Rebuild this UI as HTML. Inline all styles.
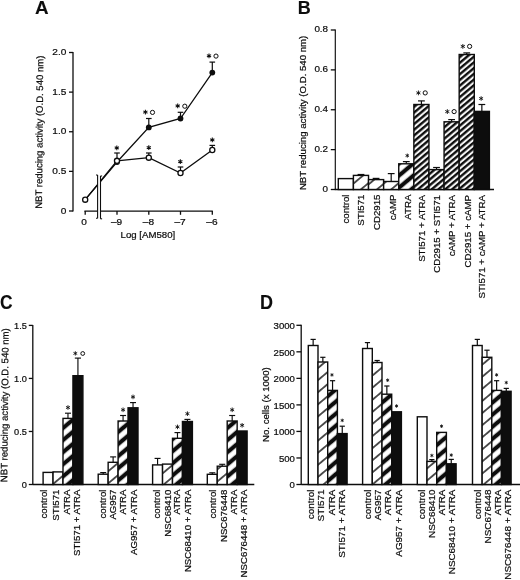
<!DOCTYPE html>
<html><head><meta charset="utf-8"><title>Figure</title>
<style>
html,body{margin:0;padding:0;background:#fff;}
body{width:520px;height:580px;overflow:hidden;}
svg{display:block;font-family:"Liberation Sans",sans-serif;fill:#0d0d0d;filter:grayscale(1) blur(0.35px);}
text{stroke:#0d0d0d;stroke-width:0.22px;}
</style></head><body>
<svg width="520" height="580" viewBox="0 0 520 580">
<defs>
<pattern id="lh" width="8.3" height="8.3" patternUnits="userSpaceOnUse" patternTransform="rotate(-41)"><rect width="8.3" height="8.3" fill="#fff"/><rect y="3" width="8.3" height="1.4" fill="#0d0d0d"/></pattern>
<pattern id="hh" width="8.3" height="8.3" patternUnits="userSpaceOnUse" patternTransform="rotate(-41)"><rect width="8.3" height="8.3" fill="#fff"/><rect y="2" width="8.3" height="4.1" fill="#0d0d0d"/></pattern>
<pattern id="dh" width="4.38" height="4.38" patternUnits="userSpaceOnUse" patternTransform="rotate(-40)"><rect width="4.38" height="4.38" fill="#fff"/><rect y="0.8" width="4.38" height="2.4" fill="#0d0d0d"/></pattern>
</defs>
<rect width="520" height="580" fill="#fff"/>

<text transform="translate(34.9,14.2) scale(1.047,1.035)" font-size="18" font-weight="bold" style="stroke-width:0.1px">A</text>
<text transform="translate(297.8,13.9) scale(1.0,1.0)" font-size="18" font-weight="bold" style="stroke-width:0.1px">B</text>
<text transform="translate(-0.1,308.9) scale(0.97,1.115)" font-size="18" font-weight="bold" style="stroke-width:0.1px">C</text>
<text transform="translate(260.0,308.8) scale(1.0,1.1)" font-size="18" font-weight="bold" style="stroke-width:0.1px">D</text>
<line x1="73.00" y1="52.00" x2="73.00" y2="211.50" stroke="#0d0d0d" stroke-width="1.3"/>
<line x1="69.00" y1="211.00" x2="73.00" y2="211.00" stroke="#0d0d0d" stroke-width="1.3"/>
<text transform="translate(66.30,213.50) scale(1.07,1)" text-anchor="end" font-size="9.45" >0</text>
<line x1="69.00" y1="171.38" x2="73.00" y2="171.38" stroke="#0d0d0d" stroke-width="1.3"/>
<text transform="translate(66.30,173.88) scale(1.07,1)" text-anchor="end" font-size="9.45" >0.5</text>
<line x1="69.00" y1="131.75" x2="73.00" y2="131.75" stroke="#0d0d0d" stroke-width="1.3"/>
<text transform="translate(66.30,134.25) scale(1.07,1)" text-anchor="end" font-size="9.45" >1.0</text>
<line x1="69.00" y1="92.12" x2="73.00" y2="92.12" stroke="#0d0d0d" stroke-width="1.3"/>
<text transform="translate(66.30,94.62) scale(1.07,1)" text-anchor="end" font-size="9.45" >1.5</text>
<line x1="69.00" y1="52.50" x2="73.00" y2="52.50" stroke="#0d0d0d" stroke-width="1.3"/>
<text transform="translate(66.30,55.00) scale(1.07,1)" text-anchor="end" font-size="9.45" >2.0</text>
<text transform="translate(42.64,132.20) rotate(-89.5)" text-anchor="middle" font-size="9.55" >NBT reducing activity (O.D. 540 nm)</text>
<line x1="84.40" y1="211.20" x2="212.80" y2="211.20" stroke="#0d0d0d" stroke-width="1.3"/>
<line x1="85.20" y1="211.00" x2="85.20" y2="214.80" stroke="#0d0d0d" stroke-width="1.3"/>
<text transform="translate(84.10,225.00) scale(1.07,1)" text-anchor="middle" font-size="9.45" >0</text>
<line x1="117.00" y1="211.00" x2="117.00" y2="214.80" stroke="#0d0d0d" stroke-width="1.3"/>
<text transform="translate(116.60,225.00) scale(1.07,1)" text-anchor="middle" font-size="9.45" >–9</text>
<line x1="148.80" y1="211.00" x2="148.80" y2="214.80" stroke="#0d0d0d" stroke-width="1.3"/>
<text transform="translate(148.40,225.00) scale(1.07,1)" text-anchor="middle" font-size="9.45" >–8</text>
<line x1="180.50" y1="211.00" x2="180.50" y2="214.80" stroke="#0d0d0d" stroke-width="1.3"/>
<text transform="translate(180.10,225.00) scale(1.07,1)" text-anchor="middle" font-size="9.45" >–7</text>
<line x1="212.30" y1="211.00" x2="212.30" y2="214.80" stroke="#0d0d0d" stroke-width="1.3"/>
<text transform="translate(211.90,225.00) scale(1.07,1)" text-anchor="middle" font-size="9.45" >–6</text>
<text x="147.90" y="238.00" text-anchor="middle" font-size="9.65" >Log [AM580]</text>
<polyline fill="none" stroke="#0d0d0d" stroke-width="1.3" points="85.2,199.7 117,162.0 148.8,127.4 180.5,118.5 212.3,72.6"/>
<polyline fill="none" stroke="#0d0d0d" stroke-width="1.3" points="85.2,199.7 117,160.8 148.8,157.7 180.5,173.0 212.3,150.0"/>
<line x1="148.80" y1="127.00" x2="148.80" y2="118.50" stroke="#0d0d0d" stroke-width="1.2"/>
<line x1="146.00" y1="118.50" x2="151.60" y2="118.50" stroke="#0d0d0d" stroke-width="1.2"/>
<line x1="180.50" y1="118.50" x2="180.50" y2="112.30" stroke="#0d0d0d" stroke-width="1.2"/>
<line x1="177.70" y1="112.30" x2="183.30" y2="112.30" stroke="#0d0d0d" stroke-width="1.2"/>
<line x1="212.30" y1="72.60" x2="212.30" y2="62.10" stroke="#0d0d0d" stroke-width="1.2"/>
<line x1="209.50" y1="62.10" x2="215.10" y2="62.10" stroke="#0d0d0d" stroke-width="1.2"/>
<line x1="117.00" y1="160.80" x2="117.00" y2="153.00" stroke="#0d0d0d" stroke-width="1.2"/>
<line x1="114.20" y1="153.00" x2="119.80" y2="153.00" stroke="#0d0d0d" stroke-width="1.2"/>
<line x1="148.80" y1="157.70" x2="148.80" y2="153.00" stroke="#0d0d0d" stroke-width="1.2"/>
<line x1="146.00" y1="153.00" x2="151.60" y2="153.00" stroke="#0d0d0d" stroke-width="1.2"/>
<line x1="180.50" y1="173.00" x2="180.50" y2="167.00" stroke="#0d0d0d" stroke-width="1.2"/>
<line x1="177.70" y1="167.00" x2="183.30" y2="167.00" stroke="#0d0d0d" stroke-width="1.2"/>
<line x1="212.30" y1="150.00" x2="212.30" y2="145.40" stroke="#0d0d0d" stroke-width="1.2"/>
<line x1="209.50" y1="145.40" x2="215.10" y2="145.40" stroke="#0d0d0d" stroke-width="1.2"/>
<circle cx="117" cy="162.0" r="2.9" fill="#0d0d0d"/>
<circle cx="148.8" cy="127.4" r="2.9" fill="#0d0d0d"/>
<circle cx="180.5" cy="118.5" r="2.9" fill="#0d0d0d"/>
<circle cx="212.3" cy="72.6" r="2.9" fill="#0d0d0d"/>
<circle cx="85.2" cy="199.7" r="2.55" fill="#fff" stroke="#0d0d0d" stroke-width="1.3"/>
<circle cx="117" cy="160.8" r="2.55" fill="#fff" stroke="#0d0d0d" stroke-width="1.3"/>
<circle cx="148.8" cy="157.7" r="2.55" fill="#fff" stroke="#0d0d0d" stroke-width="1.3"/>
<circle cx="180.5" cy="173.0" r="2.55" fill="#fff" stroke="#0d0d0d" stroke-width="1.3"/>
<circle cx="212.3" cy="150.0" r="2.55" fill="#fff" stroke="#0d0d0d" stroke-width="1.3"/>
<rect x="97.6" y="174.5" width="2.9" height="44.5" fill="#fff"/>
<line x1="97.60" y1="175.00" x2="97.60" y2="218.30" stroke="#0d0d0d" stroke-width="1.1"/>
<line x1="100.50" y1="176.00" x2="100.50" y2="218.80" stroke="#0d0d0d" stroke-width="1.1"/>
<line x1="96.00" y1="175.00" x2="97.60" y2="175.00" stroke="#0d0d0d" stroke-width="1.1"/>
<line x1="96.00" y1="218.30" x2="97.60" y2="218.30" stroke="#0d0d0d" stroke-width="1.1"/>
<line x1="100.50" y1="176.00" x2="102.10" y2="176.00" stroke="#0d0d0d" stroke-width="1.1"/>
<line x1="100.50" y1="218.80" x2="102.10" y2="218.80" stroke="#0d0d0d" stroke-width="1.1"/>
<path d="M145.40,114.50L145.40,109.70M143.32,113.30L147.48,110.90M143.32,110.90L147.48,113.30" stroke="#0d0d0d" stroke-width="1.05" fill="none" stroke-linecap="butt"/>
<circle cx="152.50" cy="112.40" r="2.1" fill="#fff" stroke="#0d0d0d" stroke-width="1"/>
<path d="M177.70,108.30L177.70,103.50M175.62,107.10L179.78,104.70M175.62,104.70L179.78,107.10" stroke="#0d0d0d" stroke-width="1.05" fill="none" stroke-linecap="butt"/>
<circle cx="184.80" cy="106.20" r="2.1" fill="#fff" stroke="#0d0d0d" stroke-width="1"/>
<path d="M209.00,58.20L209.00,53.40M206.92,57.00L211.08,54.60M206.92,54.60L211.08,57.00" stroke="#0d0d0d" stroke-width="1.05" fill="none" stroke-linecap="butt"/>
<circle cx="216.00" cy="56.10" r="2.1" fill="#fff" stroke="#0d0d0d" stroke-width="1"/>
<path d="M116.80,150.30L116.80,145.50M114.72,149.10L118.88,146.70M114.72,146.70L118.88,149.10" stroke="#0d0d0d" stroke-width="1.05" fill="none" stroke-linecap="butt"/>
<path d="M148.80,150.10L148.80,145.30M146.72,148.90L150.88,146.50M146.72,146.50L150.88,148.90" stroke="#0d0d0d" stroke-width="1.05" fill="none" stroke-linecap="butt"/>
<path d="M180.30,164.10L180.30,159.30M178.22,162.90L182.38,160.50M178.22,160.50L182.38,162.90" stroke="#0d0d0d" stroke-width="1.05" fill="none" stroke-linecap="butt"/>
<path d="M212.30,142.30L212.30,137.50M210.22,141.10L214.38,138.70M210.22,138.70L214.38,141.10" stroke="#0d0d0d" stroke-width="1.05" fill="none" stroke-linecap="butt"/>
<line x1="335.30" y1="29.50" x2="335.30" y2="190.00" stroke="#0d0d0d" stroke-width="1.15"/>
<line x1="330.80" y1="189.50" x2="335.30" y2="189.50" stroke="#0d0d0d" stroke-width="1.3"/>
<text transform="translate(328.10,191.60) scale(1.06,1)" text-anchor="end" font-size="9.3" >0</text>
<line x1="330.80" y1="149.62" x2="335.30" y2="149.62" stroke="#0d0d0d" stroke-width="1.3"/>
<text transform="translate(328.10,151.72) scale(1.06,1)" text-anchor="end" font-size="9.3" >0.2</text>
<line x1="330.80" y1="109.75" x2="335.30" y2="109.75" stroke="#0d0d0d" stroke-width="1.3"/>
<text transform="translate(328.10,111.85) scale(1.06,1)" text-anchor="end" font-size="9.3" >0.4</text>
<line x1="330.80" y1="69.88" x2="335.30" y2="69.88" stroke="#0d0d0d" stroke-width="1.3"/>
<text transform="translate(328.10,71.97) scale(1.06,1)" text-anchor="end" font-size="9.3" >0.6</text>
<line x1="330.80" y1="30.00" x2="335.30" y2="30.00" stroke="#0d0d0d" stroke-width="1.3"/>
<text transform="translate(328.10,32.10) scale(1.06,1)" text-anchor="end" font-size="9.3" >0.8</text>
<text transform="translate(305.67,112.90) rotate(-90)" text-anchor="middle" font-size="9.65" >NBT reducing activity (O.D. 540 nm)</text>
<line x1="334.80" y1="189.50" x2="494.00" y2="189.50" stroke="#0d0d0d" stroke-width="1.3"/>
<rect x="338.30" y="178.60" width="15.11" height="10.90" fill="#fff" stroke="#0d0d0d" stroke-width="1.4"/>
<text transform="translate(349.15,194.50) rotate(-90)" text-anchor="end" font-size="9.7" >control</text>
<line x1="360.97" y1="175.40" x2="360.97" y2="174.50" stroke="#0d0d0d" stroke-width="1.2"/>
<line x1="357.57" y1="174.50" x2="364.37" y2="174.50" stroke="#0d0d0d" stroke-width="1.2"/>
<pattern id="p1" width="9.27" height="9.27" patternUnits="userSpaceOnUse" patternTransform="translate(360.1,190.10000000000002) rotate(-40)"><rect width="9.27" height="9.27" fill="#fff"/><rect y="0" width="9.27" height="0.70" fill="#0d0d0d"/><rect y="8.57" width="9.27" height="0.75" fill="#0d0d0d"/></pattern>
<rect x="353.41" y="175.40" width="15.11" height="14.10" fill="url(#p1)" stroke="#0d0d0d" stroke-width="1.4"/>
<text transform="translate(364.26,194.50) rotate(-90)" text-anchor="end" font-size="9.7" >STI571</text>
<line x1="376.07" y1="179.60" x2="376.07" y2="178.40" stroke="#0d0d0d" stroke-width="1.2"/>
<line x1="372.68" y1="178.40" x2="379.47" y2="178.40" stroke="#0d0d0d" stroke-width="1.2"/>
<pattern id="p2" width="9.27" height="9.27" patternUnits="userSpaceOnUse" patternTransform="translate(376.2,190.10000000000002) rotate(-40)"><rect width="9.27" height="9.27" fill="#fff"/><rect y="0" width="9.27" height="0.70" fill="#0d0d0d"/><rect y="8.57" width="9.27" height="0.75" fill="#0d0d0d"/></pattern>
<rect x="368.52" y="179.60" width="15.11" height="9.90" fill="url(#p2)" stroke="#0d0d0d" stroke-width="1.4"/>
<text transform="translate(379.87,194.50) rotate(-90)" text-anchor="end" font-size="9.7" >CD2915</text>
<line x1="391.19" y1="181.50" x2="391.19" y2="173.60" stroke="#0d0d0d" stroke-width="1.2"/>
<line x1="387.79" y1="173.60" x2="394.58" y2="173.60" stroke="#0d0d0d" stroke-width="1.2"/>
<pattern id="p3" width="9.27" height="9.27" patternUnits="userSpaceOnUse" patternTransform="translate(390.4,190.10000000000002) rotate(-40)"><rect width="9.27" height="9.27" fill="#fff"/><rect y="0" width="9.27" height="0.70" fill="#0d0d0d"/><rect y="8.57" width="9.27" height="0.75" fill="#0d0d0d"/></pattern>
<rect x="383.63" y="181.50" width="15.11" height="8.00" fill="url(#p3)" stroke="#0d0d0d" stroke-width="1.4"/>
<text transform="translate(396.38,194.50) rotate(-90)" text-anchor="end" font-size="9.7" >cAMP</text>
<line x1="406.30" y1="163.80" x2="406.30" y2="161.60" stroke="#0d0d0d" stroke-width="1.2"/>
<line x1="402.90" y1="161.60" x2="409.69" y2="161.60" stroke="#0d0d0d" stroke-width="1.2"/>
<pattern id="p4" width="9.27" height="9.27" patternUnits="userSpaceOnUse" patternTransform="translate(399.2,175.4) rotate(-40)"><rect width="9.27" height="9.27" fill="#fff"/><rect y="0" width="9.27" height="2.10" fill="#0d0d0d"/><rect y="7.17" width="9.27" height="2.15" fill="#0d0d0d"/></pattern>
<rect x="398.74" y="163.80" width="15.11" height="25.70" fill="url(#p4)" stroke="#0d0d0d" stroke-width="1.4"/>
<text transform="translate(410.59,194.50) rotate(-90)" text-anchor="end" font-size="9.7" >ATRA</text>
<path d="M407.30,157.60L407.30,153.60M405.56,156.60L409.03,154.60M405.56,154.60L409.03,156.60" stroke="#0d0d0d" stroke-width="0.9" fill="none" stroke-linecap="butt"/>
<line x1="421.41" y1="104.50" x2="421.41" y2="100.90" stroke="#0d0d0d" stroke-width="1.2"/>
<line x1="418.01" y1="100.90" x2="424.81" y2="100.90" stroke="#0d0d0d" stroke-width="1.2"/>
<rect x="413.85" y="104.50" width="15.11" height="85.00" fill="url(#dh)" stroke="#0d0d0d" stroke-width="1.4"/>
<text transform="translate(424.90,195.00) rotate(-90)" text-anchor="end" font-size="9.7" >STI571 + ATRA</text>
<path d="M418.41,95.30L418.41,90.50M416.33,94.10L420.48,91.70M416.33,91.70L420.48,94.10" stroke="#0d0d0d" stroke-width="0.9" fill="none" stroke-linecap="butt"/>
<circle cx="425.21" cy="92.90" r="2.1" fill="#fff" stroke="#0d0d0d" stroke-width="1"/>
<line x1="436.52" y1="169.60" x2="436.52" y2="167.50" stroke="#0d0d0d" stroke-width="1.2"/>
<line x1="433.12" y1="167.50" x2="439.92" y2="167.50" stroke="#0d0d0d" stroke-width="1.2"/>
<rect x="428.96" y="169.60" width="15.11" height="19.90" fill="url(#dh)" stroke="#0d0d0d" stroke-width="1.4"/>
<text transform="translate(440.01,195.00) rotate(-90)" text-anchor="end" font-size="9.7" >CD2915 + STI571</text>
<line x1="451.62" y1="121.80" x2="451.62" y2="119.60" stroke="#0d0d0d" stroke-width="1.2"/>
<line x1="448.23" y1="119.60" x2="455.02" y2="119.60" stroke="#0d0d0d" stroke-width="1.2"/>
<rect x="444.07" y="121.80" width="15.11" height="67.70" fill="url(#dh)" stroke="#0d0d0d" stroke-width="1.4"/>
<text transform="translate(455.42,195.00) rotate(-90)" text-anchor="end" font-size="9.7" >cAMP + ATRA</text>
<path d="M447.32,114.00L447.32,109.20M445.25,112.80L449.40,110.40M445.25,110.40L449.40,112.80" stroke="#0d0d0d" stroke-width="0.9" fill="none" stroke-linecap="butt"/>
<circle cx="454.12" cy="111.60" r="2.1" fill="#fff" stroke="#0d0d0d" stroke-width="1"/>
<line x1="466.74" y1="54.50" x2="466.74" y2="52.90" stroke="#0d0d0d" stroke-width="1.2"/>
<line x1="463.34" y1="52.90" x2="470.13" y2="52.90" stroke="#0d0d0d" stroke-width="1.2"/>
<rect x="459.18" y="54.50" width="15.11" height="135.00" fill="url(#dh)" stroke="#0d0d0d" stroke-width="1.4"/>
<text transform="translate(470.53,195.00) rotate(-90)" text-anchor="end" font-size="9.7" >CD2915 + cAMP</text>
<path d="M462.83,48.80L462.83,44.00M460.76,47.60L464.91,45.20M460.76,45.20L464.91,47.60" stroke="#0d0d0d" stroke-width="0.9" fill="none" stroke-linecap="butt"/>
<circle cx="469.63" cy="46.40" r="2.1" fill="#fff" stroke="#0d0d0d" stroke-width="1"/>
<line x1="481.85" y1="111.40" x2="481.85" y2="104.50" stroke="#0d0d0d" stroke-width="1.2"/>
<line x1="478.45" y1="104.50" x2="485.25" y2="104.50" stroke="#0d0d0d" stroke-width="1.2"/>
<rect x="474.29" y="111.40" width="15.11" height="78.10" fill="#0d0d0d" stroke="#0d0d0d" stroke-width="1.4"/>
<text transform="translate(484.74,195.00) rotate(-90)" text-anchor="end" font-size="9.7" >STI571 + cAMP + ATRA</text>
<path d="M481.15,100.75L481.15,96.25M479.20,99.62L483.09,97.38M479.20,97.38L483.09,99.62" stroke="#0d0d0d" stroke-width="0.9" fill="none" stroke-linecap="butt"/>
<line x1="32.80" y1="324.90" x2="32.80" y2="485.00" stroke="#0d0d0d" stroke-width="1.3"/>
<line x1="28.80" y1="484.50" x2="32.80" y2="484.50" stroke="#0d0d0d" stroke-width="1.3"/>
<text x="26.80" y="487.80" text-anchor="end" font-size="9.2" >0</text>
<line x1="28.80" y1="431.47" x2="32.80" y2="431.47" stroke="#0d0d0d" stroke-width="1.3"/>
<text x="26.80" y="434.77" text-anchor="end" font-size="9.2" >0.5</text>
<line x1="28.80" y1="378.43" x2="32.80" y2="378.43" stroke="#0d0d0d" stroke-width="1.3"/>
<text x="26.80" y="381.73" text-anchor="end" font-size="9.2" >1.0</text>
<line x1="28.80" y1="325.40" x2="32.80" y2="325.40" stroke="#0d0d0d" stroke-width="1.3"/>
<text x="26.80" y="328.70" text-anchor="end" font-size="9.2" >1.5</text>
<text transform="translate(7.96,405.20) rotate(-89.5)" text-anchor="middle" font-size="9.6" >NBT reducing activity (O.D. 540 nm)</text>
<line x1="32.80" y1="484.50" x2="254.30" y2="484.50" stroke="#0d0d0d" stroke-width="1.3"/>
<rect x="43.10" y="472.40" width="9.95" height="12.10" fill="#fff" stroke="#0d0d0d" stroke-width="1.4"/>
<text transform="translate(47.35,489.60) rotate(-90)" text-anchor="end" font-size="9.65" >control</text>
<pattern id="p5" width="9.27" height="9.27" patternUnits="userSpaceOnUse" patternTransform="translate(53.1,484.0) rotate(-40)"><rect width="9.27" height="9.27" fill="#fff"/><rect y="0" width="9.27" height="0.70" fill="#0d0d0d"/><rect y="8.57" width="9.27" height="0.75" fill="#0d0d0d"/></pattern>
<rect x="53.05" y="471.90" width="9.95" height="12.60" fill="url(#p5)" stroke="#0d0d0d" stroke-width="1.4"/>
<text transform="translate(59.40,489.60) rotate(-90)" text-anchor="end" font-size="9.65" >STI571</text>
<line x1="67.97" y1="418.40" x2="67.97" y2="413.20" stroke="#0d0d0d" stroke-width="1.15"/>
<line x1="64.97" y1="413.20" x2="70.97" y2="413.20" stroke="#0d0d0d" stroke-width="1.15"/>
<pattern id="p6" width="9.27" height="9.27" patternUnits="userSpaceOnUse" patternTransform="translate(62.8,452.4) rotate(-40)"><rect width="9.27" height="9.27" fill="#fff"/><rect y="0" width="9.27" height="2.10" fill="#0d0d0d"/><rect y="7.17" width="9.27" height="2.15" fill="#0d0d0d"/></pattern>
<rect x="63.00" y="418.40" width="9.95" height="66.10" fill="url(#p6)" stroke="#0d0d0d" stroke-width="1.4"/>
<text transform="translate(69.75,489.60) rotate(-90)" text-anchor="end" font-size="9.65" >ATRA</text>
<path d="M67.97,409.80L67.97,405.20M65.98,408.65L69.97,406.35M65.98,406.35L69.97,408.65" stroke="#0d0d0d" stroke-width="0.9" fill="none" stroke-linecap="butt"/>
<line x1="77.93" y1="375.70" x2="77.93" y2="358.10" stroke="#0d0d0d" stroke-width="1.15"/>
<line x1="74.83" y1="358.10" x2="81.03" y2="358.10" stroke="#0d0d0d" stroke-width="1.15"/>
<rect x="72.95" y="375.70" width="9.95" height="108.80" fill="#0d0d0d" stroke="#0d0d0d" stroke-width="1.4"/>
<text transform="translate(80.30,489.60) rotate(-90)" text-anchor="end" font-size="9.65" >STI571 + ATRA</text>
<path d="M75.33,355.55L75.33,351.25M73.46,354.48L77.19,352.33M73.46,352.33L77.19,354.48" stroke="#0d0d0d" stroke-width="0.9" fill="none" stroke-linecap="butt"/>
<circle cx="82.73" cy="353.50" r="1.9" fill="#fff" stroke="#0d0d0d" stroke-width="1"/>
<line x1="103.18" y1="474.20" x2="103.18" y2="472.60" stroke="#0d0d0d" stroke-width="1.15"/>
<line x1="100.18" y1="472.60" x2="106.18" y2="472.60" stroke="#0d0d0d" stroke-width="1.15"/>
<rect x="98.20" y="474.20" width="9.95" height="10.30" fill="#fff" stroke="#0d0d0d" stroke-width="1.4"/>
<text transform="translate(105.55,489.60) rotate(-90)" text-anchor="end" font-size="9.65" >control</text>
<line x1="113.12" y1="462.30" x2="113.12" y2="456.90" stroke="#0d0d0d" stroke-width="1.15"/>
<line x1="110.12" y1="456.90" x2="116.12" y2="456.90" stroke="#0d0d0d" stroke-width="1.15"/>
<pattern id="p7" width="9.27" height="9.27" patternUnits="userSpaceOnUse" patternTransform="translate(107.7,471.7) rotate(-40)"><rect width="9.27" height="9.27" fill="#fff"/><rect y="0" width="9.27" height="0.70" fill="#0d0d0d"/><rect y="8.57" width="9.27" height="0.75" fill="#0d0d0d"/></pattern>
<rect x="108.15" y="462.30" width="9.95" height="22.20" fill="url(#p7)" stroke="#0d0d0d" stroke-width="1.4"/>
<text transform="translate(115.80,489.60) rotate(-90)" text-anchor="end" font-size="9.65" >AG957</text>
<line x1="123.07" y1="421.00" x2="123.07" y2="415.50" stroke="#0d0d0d" stroke-width="1.15"/>
<line x1="120.07" y1="415.50" x2="126.07" y2="415.50" stroke="#0d0d0d" stroke-width="1.15"/>
<pattern id="p8" width="9.27" height="9.27" patternUnits="userSpaceOnUse" patternTransform="translate(117.3,456.9) rotate(-40)"><rect width="9.27" height="9.27" fill="#fff"/><rect y="0" width="9.27" height="2.10" fill="#0d0d0d"/><rect y="7.17" width="9.27" height="2.15" fill="#0d0d0d"/></pattern>
<rect x="118.10" y="421.00" width="9.95" height="63.50" fill="url(#p8)" stroke="#0d0d0d" stroke-width="1.4"/>
<text transform="translate(126.15,489.60) rotate(-90)" text-anchor="end" font-size="9.65" >ATRA</text>
<path d="M123.07,412.10L123.07,407.50M121.08,410.95L125.07,408.65M121.08,408.65L125.07,410.95" stroke="#0d0d0d" stroke-width="0.9" fill="none" stroke-linecap="butt"/>
<line x1="133.03" y1="407.80" x2="133.03" y2="402.60" stroke="#0d0d0d" stroke-width="1.15"/>
<line x1="130.03" y1="402.60" x2="136.03" y2="402.60" stroke="#0d0d0d" stroke-width="1.15"/>
<rect x="128.05" y="407.80" width="9.95" height="76.70" fill="#0d0d0d" stroke="#0d0d0d" stroke-width="1.4"/>
<text transform="translate(136.50,489.60) rotate(-90)" text-anchor="end" font-size="9.65" >AG957 + ATRA</text>
<path d="M133.03,399.20L133.03,394.60M131.03,398.05L135.02,395.75M131.03,395.75L135.02,398.05" stroke="#0d0d0d" stroke-width="0.9" fill="none" stroke-linecap="butt"/>
<line x1="157.57" y1="464.90" x2="157.57" y2="458.40" stroke="#0d0d0d" stroke-width="1.15"/>
<line x1="154.57" y1="458.40" x2="160.57" y2="458.40" stroke="#0d0d0d" stroke-width="1.15"/>
<rect x="152.60" y="464.90" width="9.95" height="19.60" fill="#fff" stroke="#0d0d0d" stroke-width="1.4"/>
<text transform="translate(159.95,489.60) rotate(-90)" text-anchor="end" font-size="9.65" >control</text>
<pattern id="p9" width="9.27" height="9.27" patternUnits="userSpaceOnUse" patternTransform="translate(162.1,473.8) rotate(-40)"><rect width="9.27" height="9.27" fill="#fff"/><rect y="0" width="9.27" height="0.70" fill="#0d0d0d"/><rect y="8.57" width="9.27" height="0.75" fill="#0d0d0d"/></pattern>
<rect x="162.55" y="464.10" width="9.95" height="20.40" fill="url(#p9)" stroke="#0d0d0d" stroke-width="1.4"/>
<text transform="translate(171.00,489.60) rotate(-90)" text-anchor="end" font-size="9.65" >NSC68410</text>
<line x1="177.47" y1="438.30" x2="177.47" y2="432.60" stroke="#0d0d0d" stroke-width="1.15"/>
<line x1="174.47" y1="432.60" x2="180.47" y2="432.60" stroke="#0d0d0d" stroke-width="1.15"/>
<pattern id="p10" width="9.27" height="9.27" patternUnits="userSpaceOnUse" patternTransform="translate(171.7,464.1) rotate(-40)"><rect width="9.27" height="9.27" fill="#fff"/><rect y="0" width="9.27" height="2.10" fill="#0d0d0d"/><rect y="7.17" width="9.27" height="2.15" fill="#0d0d0d"/></pattern>
<rect x="172.50" y="438.30" width="9.95" height="46.20" fill="url(#p10)" stroke="#0d0d0d" stroke-width="1.4"/>
<text transform="translate(180.35,489.60) rotate(-90)" text-anchor="end" font-size="9.65" >ATRA</text>
<path d="M177.47,429.20L177.47,424.60M175.48,428.05L179.47,425.75M175.48,425.75L179.47,428.05" stroke="#0d0d0d" stroke-width="0.9" fill="none" stroke-linecap="butt"/>
<line x1="187.42" y1="421.50" x2="187.42" y2="419.40" stroke="#0d0d0d" stroke-width="1.15"/>
<line x1="184.42" y1="419.40" x2="190.42" y2="419.40" stroke="#0d0d0d" stroke-width="1.15"/>
<rect x="182.45" y="421.50" width="9.95" height="63.00" fill="#0d0d0d" stroke="#0d0d0d" stroke-width="1.4"/>
<text transform="translate(190.50,489.60) rotate(-90)" text-anchor="end" font-size="9.65" >NSC68410 + ATRA</text>
<path d="M187.42,416.00L187.42,411.40M185.43,414.85L189.42,412.55M185.43,412.55L189.42,414.85" stroke="#0d0d0d" stroke-width="0.9" fill="none" stroke-linecap="butt"/>
<line x1="212.28" y1="474.30" x2="212.28" y2="472.80" stroke="#0d0d0d" stroke-width="1.15"/>
<line x1="209.28" y1="472.80" x2="215.28" y2="472.80" stroke="#0d0d0d" stroke-width="1.15"/>
<rect x="207.30" y="474.30" width="9.95" height="10.20" fill="#fff" stroke="#0d0d0d" stroke-width="1.4"/>
<text transform="translate(216.25,489.60) rotate(-90)" text-anchor="end" font-size="9.65" >control</text>
<line x1="222.22" y1="466.20" x2="222.22" y2="464.30" stroke="#0d0d0d" stroke-width="1.15"/>
<line x1="219.22" y1="464.30" x2="225.22" y2="464.30" stroke="#0d0d0d" stroke-width="1.15"/>
<pattern id="p11" width="9.27" height="9.27" patternUnits="userSpaceOnUse" patternTransform="translate(217.1,481.7) rotate(-40)"><rect width="9.27" height="9.27" fill="#fff"/><rect y="0" width="9.27" height="0.70" fill="#0d0d0d"/><rect y="8.57" width="9.27" height="0.75" fill="#0d0d0d"/></pattern>
<rect x="217.25" y="466.20" width="9.95" height="18.30" fill="url(#p11)" stroke="#0d0d0d" stroke-width="1.4"/>
<text transform="translate(226.90,489.60) rotate(-90)" text-anchor="end" font-size="9.65" >NSC676448</text>
<line x1="232.18" y1="421.00" x2="232.18" y2="415.50" stroke="#0d0d0d" stroke-width="1.15"/>
<line x1="229.18" y1="415.50" x2="235.18" y2="415.50" stroke="#0d0d0d" stroke-width="1.15"/>
<pattern id="p12" width="9.27" height="9.27" patternUnits="userSpaceOnUse" patternTransform="translate(226.5,453.0) rotate(-40)"><rect width="9.27" height="9.27" fill="#fff"/><rect y="0" width="9.27" height="2.10" fill="#0d0d0d"/><rect y="7.17" width="9.27" height="2.15" fill="#0d0d0d"/></pattern>
<rect x="227.20" y="421.00" width="9.95" height="63.50" fill="url(#p12)" stroke="#0d0d0d" stroke-width="1.4"/>
<text transform="translate(237.05,489.60) rotate(-90)" text-anchor="end" font-size="9.65" >ATRA</text>
<path d="M232.18,412.10L232.18,407.50M230.18,410.95L234.17,408.65M230.18,408.65L234.17,410.95" stroke="#0d0d0d" stroke-width="0.9" fill="none" stroke-linecap="butt"/>
<rect x="237.15" y="431.00" width="9.95" height="53.50" fill="#0d0d0d" stroke="#0d0d0d" stroke-width="1.4"/>
<text transform="translate(247.00,489.60) rotate(-90)" text-anchor="end" font-size="9.65" >NSC676448 + ATRA</text>
<path d="M242.12,427.60L242.12,423.00M240.13,426.45L244.12,424.15M240.13,424.15L244.12,426.45" stroke="#0d0d0d" stroke-width="0.9" fill="none" stroke-linecap="butt"/>
<line x1="301.20" y1="324.80" x2="301.20" y2="485.00" stroke="#0d0d0d" stroke-width="1.3"/>
<line x1="296.40" y1="484.50" x2="301.20" y2="484.50" stroke="#0d0d0d" stroke-width="1.3"/>
<text x="294.90" y="488.20" text-anchor="end" font-size="9.6" >0</text>
<line x1="296.40" y1="457.97" x2="301.20" y2="457.97" stroke="#0d0d0d" stroke-width="1.3"/>
<text x="294.90" y="461.67" text-anchor="end" font-size="9.6" >500</text>
<line x1="296.40" y1="431.43" x2="301.20" y2="431.43" stroke="#0d0d0d" stroke-width="1.3"/>
<text x="294.90" y="435.13" text-anchor="end" font-size="9.6" >1000</text>
<line x1="296.40" y1="404.90" x2="301.20" y2="404.90" stroke="#0d0d0d" stroke-width="1.3"/>
<text x="294.90" y="408.60" text-anchor="end" font-size="9.6" >1500</text>
<line x1="296.40" y1="378.37" x2="301.20" y2="378.37" stroke="#0d0d0d" stroke-width="1.3"/>
<text x="294.90" y="382.07" text-anchor="end" font-size="9.6" >2000</text>
<line x1="296.40" y1="351.83" x2="301.20" y2="351.83" stroke="#0d0d0d" stroke-width="1.3"/>
<text x="294.90" y="355.53" text-anchor="end" font-size="9.6" >2500</text>
<line x1="296.40" y1="325.30" x2="301.20" y2="325.30" stroke="#0d0d0d" stroke-width="1.3"/>
<text x="294.90" y="329.00" text-anchor="end" font-size="9.6" >3000</text>
<text transform="translate(268.66,404.60) rotate(-90)" text-anchor="middle" font-size="9.6" >No. cells (x 1000)</text>
<line x1="301.20" y1="484.50" x2="520.00" y2="484.50" stroke="#0d0d0d" stroke-width="1.3"/>
<line x1="313.15" y1="345.50" x2="313.15" y2="339.40" stroke="#0d0d0d" stroke-width="1.2"/>
<line x1="310.55" y1="339.40" x2="315.75" y2="339.40" stroke="#0d0d0d" stroke-width="1.2"/>
<rect x="308.30" y="345.50" width="9.70" height="139.00" fill="#fff" stroke="#0d0d0d" stroke-width="1.4"/>
<text transform="translate(313.51,489.60) rotate(-90)" text-anchor="end" font-size="9.9" >control</text>
<line x1="322.85" y1="362.00" x2="322.85" y2="357.30" stroke="#0d0d0d" stroke-width="1.2"/>
<line x1="320.25" y1="357.30" x2="325.45" y2="357.30" stroke="#0d0d0d" stroke-width="1.2"/>
<pattern id="p13" width="9.27" height="9.27" patternUnits="userSpaceOnUse" patternTransform="translate(317.8,465.0) rotate(-40)"><rect width="9.27" height="9.27" fill="#fff"/><rect y="0" width="9.27" height="0.70" fill="#0d0d0d"/><rect y="8.57" width="9.27" height="0.75" fill="#0d0d0d"/></pattern>
<rect x="318.00" y="362.00" width="9.70" height="122.50" fill="url(#p13)" stroke="#0d0d0d" stroke-width="1.4"/>
<text transform="translate(324.31,489.60) rotate(-90)" text-anchor="end" font-size="9.9" >STI571</text>
<line x1="332.55" y1="390.40" x2="332.55" y2="380.70" stroke="#0d0d0d" stroke-width="1.2"/>
<line x1="329.95" y1="380.70" x2="335.15" y2="380.70" stroke="#0d0d0d" stroke-width="1.2"/>
<pattern id="p14" width="9.27" height="9.27" patternUnits="userSpaceOnUse" patternTransform="translate(327.6,469.0) rotate(-40)"><rect width="9.27" height="9.27" fill="#fff"/><rect y="0" width="9.27" height="2.10" fill="#0d0d0d"/><rect y="7.17" width="9.27" height="2.15" fill="#0d0d0d"/></pattern>
<rect x="327.70" y="390.40" width="9.70" height="94.10" fill="url(#p14)" stroke="#0d0d0d" stroke-width="1.4"/>
<text transform="translate(335.41,489.60) rotate(-90)" text-anchor="end" font-size="9.9" >ATRA</text>
<path d="M331.95,376.65L331.95,373.15M330.43,375.77L333.47,374.02M330.43,374.02L333.47,375.77" stroke="#0d0d0d" stroke-width="0.85" fill="none" stroke-linecap="butt"/>
<line x1="342.25" y1="433.60" x2="342.25" y2="426.20" stroke="#0d0d0d" stroke-width="1.2"/>
<line x1="339.65" y1="426.20" x2="344.85" y2="426.20" stroke="#0d0d0d" stroke-width="1.2"/>
<rect x="337.40" y="433.60" width="9.70" height="50.90" fill="#0d0d0d" stroke="#0d0d0d" stroke-width="1.4"/>
<text transform="translate(345.31,489.60) rotate(-90)" text-anchor="end" font-size="9.9" >STI571 + ATRA</text>
<path d="M342.25,422.15L342.25,418.65M340.73,421.27L343.77,419.52M340.73,419.52L343.77,421.27" stroke="#0d0d0d" stroke-width="0.85" fill="none" stroke-linecap="butt"/>
<line x1="367.45" y1="348.50" x2="367.45" y2="342.60" stroke="#0d0d0d" stroke-width="1.2"/>
<line x1="364.85" y1="342.60" x2="370.05" y2="342.60" stroke="#0d0d0d" stroke-width="1.2"/>
<rect x="362.60" y="348.50" width="9.70" height="136.00" fill="#fff" stroke="#0d0d0d" stroke-width="1.4"/>
<text transform="translate(371.01,489.60) rotate(-90)" text-anchor="end" font-size="9.9" >control</text>
<line x1="377.15" y1="362.50" x2="377.15" y2="360.50" stroke="#0d0d0d" stroke-width="1.2"/>
<line x1="374.55" y1="360.50" x2="379.75" y2="360.50" stroke="#0d0d0d" stroke-width="1.2"/>
<pattern id="p15" width="9.27" height="9.27" patternUnits="userSpaceOnUse" patternTransform="translate(372.3,460.4) rotate(-40)"><rect width="9.27" height="9.27" fill="#fff"/><rect y="0" width="9.27" height="0.70" fill="#0d0d0d"/><rect y="8.57" width="9.27" height="0.75" fill="#0d0d0d"/></pattern>
<rect x="372.30" y="362.50" width="9.70" height="122.00" fill="url(#p15)" stroke="#0d0d0d" stroke-width="1.4"/>
<text transform="translate(381.31,489.60) rotate(-90)" text-anchor="end" font-size="9.9" >AG957</text>
<line x1="386.85" y1="394.20" x2="386.85" y2="386.00" stroke="#0d0d0d" stroke-width="1.2"/>
<line x1="384.25" y1="386.00" x2="389.45" y2="386.00" stroke="#0d0d0d" stroke-width="1.2"/>
<pattern id="p16" width="9.27" height="9.27" patternUnits="userSpaceOnUse" patternTransform="translate(382.2,463.0) rotate(-40)"><rect width="9.27" height="9.27" fill="#fff"/><rect y="0" width="9.27" height="2.10" fill="#0d0d0d"/><rect y="7.17" width="9.27" height="2.15" fill="#0d0d0d"/></pattern>
<rect x="382.00" y="394.20" width="9.70" height="90.30" fill="url(#p16)" stroke="#0d0d0d" stroke-width="1.4"/>
<text transform="translate(391.01,489.60) rotate(-90)" text-anchor="end" font-size="9.9" >ATRA</text>
<path d="M387.65,381.95L387.65,378.45M386.13,381.07L389.17,379.32M386.13,379.32L389.17,381.07" stroke="#0d0d0d" stroke-width="0.85" fill="none" stroke-linecap="butt"/>
<rect x="391.70" y="411.80" width="9.70" height="72.70" fill="#0d0d0d" stroke="#0d0d0d" stroke-width="1.4"/>
<text transform="translate(402.41,489.60) rotate(-90)" text-anchor="end" font-size="9.9" >AG957 + ATRA</text>
<path d="M396.55,407.75L396.55,404.25M395.03,406.88L398.07,405.12M395.03,405.12L398.07,406.88" stroke="#0d0d0d" stroke-width="0.85" fill="none" stroke-linecap="butt"/>
<rect x="417.30" y="416.80" width="9.70" height="67.70" fill="#fff" stroke="#0d0d0d" stroke-width="1.4"/>
<text transform="translate(424.61,489.60) rotate(-90)" text-anchor="end" font-size="9.9" >control</text>
<line x1="431.85" y1="461.40" x2="431.85" y2="459.60" stroke="#0d0d0d" stroke-width="1.2"/>
<line x1="429.25" y1="459.60" x2="434.45" y2="459.60" stroke="#0d0d0d" stroke-width="1.2"/>
<pattern id="p17" width="9.27" height="9.27" patternUnits="userSpaceOnUse" patternTransform="translate(426.7,468.7) rotate(-40)"><rect width="9.27" height="9.27" fill="#fff"/><rect y="0" width="9.27" height="0.70" fill="#0d0d0d"/><rect y="8.57" width="9.27" height="0.75" fill="#0d0d0d"/></pattern>
<rect x="427.00" y="461.40" width="9.70" height="23.10" fill="url(#p17)" stroke="#0d0d0d" stroke-width="1.4"/>
<text transform="translate(435.41,489.60) rotate(-90)" text-anchor="end" font-size="9.9" >NSC68410</text>
<path d="M431.85,457.25L431.85,453.75M430.33,456.38L433.37,454.62M430.33,454.62L433.37,456.38" stroke="#0d0d0d" stroke-width="0.85" fill="none" stroke-linecap="butt"/>
<pattern id="p18" width="9.27" height="9.27" patternUnits="userSpaceOnUse" patternTransform="translate(436.5,457.4) rotate(-40)"><rect width="9.27" height="9.27" fill="#fff"/><rect y="0" width="9.27" height="2.10" fill="#0d0d0d"/><rect y="7.17" width="9.27" height="2.15" fill="#0d0d0d"/></pattern>
<rect x="436.70" y="432.40" width="9.70" height="52.10" fill="url(#p18)" stroke="#0d0d0d" stroke-width="1.4"/>
<text transform="translate(445.11,489.60) rotate(-90)" text-anchor="end" font-size="9.9" >ATRA</text>
<path d="M441.55,427.95L441.55,424.45M440.03,427.07L443.07,425.32M440.03,425.32L443.07,427.07" stroke="#0d0d0d" stroke-width="0.85" fill="none" stroke-linecap="butt"/>
<line x1="451.25" y1="463.80" x2="451.25" y2="459.40" stroke="#0d0d0d" stroke-width="1.2"/>
<line x1="448.65" y1="459.40" x2="453.85" y2="459.40" stroke="#0d0d0d" stroke-width="1.2"/>
<rect x="446.40" y="463.80" width="9.70" height="20.70" fill="#0d0d0d" stroke="#0d0d0d" stroke-width="1.4"/>
<text transform="translate(454.81,489.60) rotate(-90)" text-anchor="end" font-size="9.9" >NSC68410 + ATRA</text>
<path d="M451.25,456.85L451.25,453.35M449.73,455.97L452.77,454.22M449.73,454.22L452.77,455.97" stroke="#0d0d0d" stroke-width="0.85" fill="none" stroke-linecap="butt"/>
<line x1="477.32" y1="345.50" x2="477.32" y2="339.40" stroke="#0d0d0d" stroke-width="1.2"/>
<line x1="474.72" y1="339.40" x2="479.93" y2="339.40" stroke="#0d0d0d" stroke-width="1.2"/>
<rect x="472.50" y="345.50" width="9.65" height="139.00" fill="#fff" stroke="#0d0d0d" stroke-width="1.4"/>
<text transform="translate(480.89,489.60) rotate(-90)" text-anchor="end" font-size="9.9" >control</text>
<line x1="486.97" y1="357.30" x2="486.97" y2="350.20" stroke="#0d0d0d" stroke-width="1.2"/>
<line x1="484.37" y1="350.20" x2="489.57" y2="350.20" stroke="#0d0d0d" stroke-width="1.2"/>
<pattern id="p19" width="9.27" height="9.27" patternUnits="userSpaceOnUse" patternTransform="translate(481.6,462.0) rotate(-40)"><rect width="9.27" height="9.27" fill="#fff"/><rect y="0" width="9.27" height="0.70" fill="#0d0d0d"/><rect y="8.57" width="9.27" height="0.75" fill="#0d0d0d"/></pattern>
<rect x="482.15" y="357.30" width="9.65" height="127.20" fill="url(#p19)" stroke="#0d0d0d" stroke-width="1.4"/>
<text transform="translate(491.14,489.60) rotate(-90)" text-anchor="end" font-size="9.9" >NSC676448</text>
<line x1="496.62" y1="390.40" x2="496.62" y2="380.70" stroke="#0d0d0d" stroke-width="1.2"/>
<line x1="494.02" y1="380.70" x2="499.23" y2="380.70" stroke="#0d0d0d" stroke-width="1.2"/>
<pattern id="p20" width="9.27" height="9.27" patternUnits="userSpaceOnUse" patternTransform="translate(491.2,464.1) rotate(-40)"><rect width="9.27" height="9.27" fill="#fff"/><rect y="0" width="9.27" height="2.10" fill="#0d0d0d"/><rect y="7.17" width="9.27" height="2.15" fill="#0d0d0d"/></pattern>
<rect x="491.80" y="390.40" width="9.65" height="94.10" fill="url(#p20)" stroke="#0d0d0d" stroke-width="1.4"/>
<text transform="translate(500.79,489.60) rotate(-90)" text-anchor="end" font-size="9.9" >ATRA</text>
<path d="M496.62,376.65L496.62,373.15M495.11,375.77L498.14,374.02M495.11,374.02L498.14,375.77" stroke="#0d0d0d" stroke-width="0.85" fill="none" stroke-linecap="butt"/>
<line x1="506.27" y1="391.30" x2="506.27" y2="388.40" stroke="#0d0d0d" stroke-width="1.2"/>
<line x1="503.67" y1="388.40" x2="508.88" y2="388.40" stroke="#0d0d0d" stroke-width="1.2"/>
<rect x="501.45" y="391.30" width="9.65" height="93.20" fill="#0d0d0d" stroke="#0d0d0d" stroke-width="1.4"/>
<text transform="translate(510.84,489.60) rotate(-90)" text-anchor="end" font-size="9.9" >NSC676448 + ATRA</text>
<path d="M506.27,384.35L506.27,380.85M504.76,383.47L507.79,381.72M504.76,381.72L507.79,383.47" stroke="#0d0d0d" stroke-width="0.85" fill="none" stroke-linecap="butt"/>
</svg></body></html>
